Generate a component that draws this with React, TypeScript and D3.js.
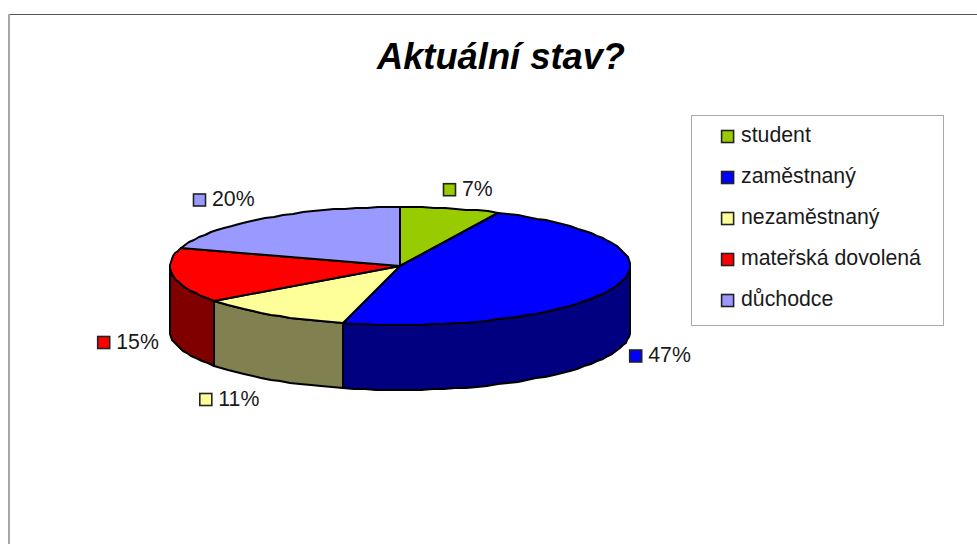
import React from "react";
import * as d3 from "d3";

const categories = ["student", "zaměstnaný", "nezaměstnaný", "mateřská dovolená", "důchodce"];
const values = [7, 47, 11, 15, 20];
const topColors = ["#99cc00", "#0000ff", "#ffff99", "#ff0000", "#9999ff"];
const sideColors = ["#4d6600", "#000080", "#808050", "#800000", "#4d4d80"];
const titleText = "Aktuální stav?";
const font = "'Liberation Sans', Arial, sans-serif";
const textColor = "#1a1a1a";

const cx = 400, cy = 266, rx = 230, ry = 59, depth = 65;
const px = (a: number) => Math.round(cx + rx * Math.sin(a));
const py = (a: number) => Math.round(cy - ry * Math.cos(a));
const line = d3.line<[number, number]>();

const samples = (a0: number, a1: number) => {
  const n = Math.max(2, Math.ceil((a1 - a0) / 0.05));
  return d3.range(n + 1).map((i) => a0 + ((a1 - a0) * i) / n);
};

const arcs = d3.pie<number>().sort(null).startAngle(0).endAngle(2 * Math.PI)(values);

const labelPos: [number, number][] = [
  [449.5, 189.7],
  [635.7, 356],
  [205.8, 399.5],
  [103.7, 342.5],
  [199.5, 200],
];
const legendY = d3.scalePoint<string>().domain(categories).range([135, 299]);

export default function App() {
  return (
    <svg
      width={977}
      height={544}
      style={{ position: "absolute", left: 0, top: 0, background: "#fff" }}
      fontFamily={font}
    >
      <line x1={9} y1={14.5} x2={977} y2={14.5} stroke="#555" strokeWidth={1.2} />
      <line x1={9} y1={14} x2={9} y2={544} stroke="#a6a6a6" strokeWidth={2} />
      <text x={501} y={69} textAnchor="middle" fontSize={36.3} fontWeight="bold" fontStyle="italic" fill="#000">
        {titleText}
      </text>

      {arcs.map((d, i) => {
        const a0 = Math.max(d.startAngle, Math.PI / 2);
        const a1 = Math.min(d.endAngle, (3 * Math.PI) / 2);
        if (a1 <= a0) return null;
        const top = samples(a0, a1).map((a) => [px(a), py(a)] as [number, number]);
        const bottom = top.map(([x, y]) => [x, y + depth] as [number, number]).reverse();
        return (
          <path
            key={"side" + i}
            d={(line([...top, ...bottom]) as string) + "Z"}
            fill={sideColors[i]}
            stroke="#000"
            strokeWidth={2}
            strokeLinejoin="round"
          />
        );
      })}
      {arcs.map((d, i) => {
        const pts = samples(d.startAngle, d.endAngle).map((a) => [px(a), py(a)] as [number, number]);
        return (
          <path
            key={"top" + i}
            d={(line([[cx, cy], ...pts]) as string) + "Z"}
            fill={topColors[i]}
            stroke="#000"
            strokeWidth={2}
            strokeLinejoin="round"
          />
        );
      })}

      {values.map((v, i) => (
        <g key={"label" + i}>
          <rect x={labelPos[i][0] - 6} y={labelPos[i][1] - 6} width={12} height={12} fill={topColors[i]} stroke="#222" strokeWidth={1.6} />
          <text x={labelPos[i][0] + 12.5} y={labelPos[i][1] + 6} fontSize={21.3} fill={textColor}>
            {v}%
          </text>
        </g>
      ))}

      <rect x={691.5} y={115.5} width={252} height={210} fill="#fff" stroke="#a8a8a8" strokeWidth={1} />
      {categories.map((c) => {
        const i = categories.indexOf(c);
        const y = legendY(c) as number;
        return (
          <g key={c}>
            <rect x={721.6} y={y - 4.5} width={12} height={12} fill={topColors[i]} stroke="#222" strokeWidth={1.6} />
            <text x={741} y={y + 6.7} fontSize={21.3} fill={textColor}>
              {c}
            </text>
          </g>
        );
      })}
    </svg>
  );
}
